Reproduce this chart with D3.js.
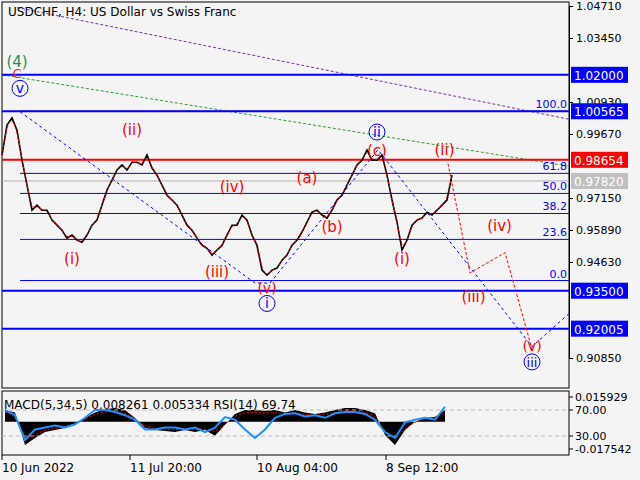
<!DOCTYPE html>
<html><head><meta charset="utf-8">
<script src="https://cdn.jsdelivr.net/npm/d3@7"></script>
<style>body{margin:0;background:#f4f4f4}svg{font-family:Tahoma,"DejaVu Sans",sans-serif}</style>
</head><body><svg id="c" width="640" height="480"></svg>
<script>
// closes, one per step
const closes = [0.9884,1.0002,1.0030,0.9982,0.9864,0.9766,0.9667,0.9687,0.9667,0.9667,0.9628,0.9608,0.9588,0.9557,0.9569,
  0.9549,0.9541,0.9569,0.9608,0.9628,0.9687,0.9746,0.9785,0.9825,0.9845,0.9825,0.9856,0.9856,0.9845,0.9884,
  0.9833,0.9805,0.9766,0.9726,0.9707,0.9687,0.9648,0.9608,0.9588,0.9557,0.9529,0.9517,0.9490,0.9510,0.9529,
  0.9569,0.9608,0.9608,0.9648,0.9628,0.9569,0.9529,0.9431,0.9411,0.9431,0.9439,0.9470,0.9490,0.9529,0.9549,
  0.9581,0.9620,0.9659,0.9667,0.9648,0.9636,0.9667,0.9707,0.9726,0.9766,0.9805,0.9845,0.9864,0.9904,0.9864,
  0.9864,0.9884,0.9805,0.9707,0.9620,0.9510,0.9549,0.9608,0.9628,0.9636,0.9659,0.9648,0.9667,0.9687,0.9707,0.9805];
const macd = [0.0075,0.006,-0.015,-0.0105,-0.0066,-0.0053,-0.004,-0.002,0.0024,0.006,0.008,0.0088,0.0075,0.0024,-0.004,
  -0.0053,-0.006,-0.0066,-0.0053,-0.0066,-0.0053,-0.009,-0.002,0.005,0.0075,0.0075,0.007,0.0075,0.006,0.0075,
  0.006,0.005,0.006,0.0075,0.0088,0.0088,0.0075,0.0055,-0.0086,-0.015,-0.0053,0,0.0024,0.003,0.0075];
const rsi = [70,62,24,40,43,46,43,48,58,70,70,67,62,55,40,40,43,43,40,43,36,43,59,55,40,27,40,58,64,65,
  60,62,58,65,67,67,64,55,36,27,51,55,58,55,75];
const priceTicks = [1.04710,1.03450,1.00930,0.99670,0.97150,0.95890,0.94630,0.90850];
const timeTicks = [[0,"10 Jun 2022"],[25.6,"11 Jul 20:00"],[51,"10 Aug 04:00"],[76.8,"8 Sep 12:00"]];
const levels = [[1.02000,"#0000ff"],[1.00565,"#0000ff"],[0.93500,"#0000ff"],[0.92005,"#0000ff"]];
const fibs = [[1.00565,"100.0"],[0.98120,"61.8"],[0.97330,"50.0"],[0.96540,"38.2"],[0.95520,"23.6"],[0.93900,"0.0"]];
const labels = [ // [index, price, text, colour, circled, size]
  [3,1.0232,"(4)","#2e8b57",0,15],[3,1.0186,"C","#e03020",0,13],[3.6,1.0127,"v","#0000ff",1,14],[26,0.9965,"(ii)","#ff0000",0,15],
  [46,0.9740,"(iv)","#ff0000",0,15],[61,0.9775,"(a)","#ff0000",0,15],[66,0.9580,"(b)","#ff0000",0,15],[75,0.9880,"(c)","#ff0000",0,15],
  [75,0.9955,"ii","#0000ff",1,14],[88.5,0.9885,"(ii)","#ff0000",0,15],[14,0.9455,"(i)","#ff0000",0,15],[43,0.9405,"(iii)","#ff0000",0,15],
  [53,0.9340,"(v)","#ff0000",0,14],[53,0.9280,"i","#0000ff",1,14],[80,0.9455,"(i)","#ff0000",0,15],[99.5,0.9585,"(iv)","#ff0000",0,15],
  [94.3,0.9305,"(iii)","#ff0000",0,15],[106,0.9112,"(v)","#ff0000",0,14],[106,0.9050,"iii","#0000ff",1,13]];
const blueWave = [[3.6,1.0055],[50.6,0.9380],[53.6,0.9380],[75.2,0.9905],[106,0.9130],[113.4,0.9260]];
const redWave = [[89.2,0.9850],[93.6,0.9420],[100.6,0.9500],[106,0.9120]];

const svg = d3.select('#c');
const x = d3.scaleLinear().domain([0,113.4]).range([2,569]);
const y = d3.scaleLinear().domain([0.90850,1.04710]).range([358,6]);
const ym = d3.scaleLinear().domain([-0.017542,0.015929]).range([449,397]);
const yr = d3.scaleLinear().domain([30,70]).range([436,410]);

svg.append('rect').attr('x',2).attr('y',2).attr('width',567).attr('height',386).attr('fill','none').attr('stroke','#000');
svg.append('rect').attr('x',2).attr('y',391).attr('width',567).attr('height',64).attr('fill','none').attr('stroke','#000');

// trend lines
svg.append('line').attr('x1',x(3)).attr('y1',y(1.0465)).attr('x2',x(113.4)).attr('y2',y(1.0025))
  .attr('stroke','#7b2fa8').attr('stroke-dasharray','3,2');
svg.append('line').attr('x1',x(0)).attr('y1',y(1.0200)).attr('x2',x(113.4)).attr('y2',y(0.9840))
  .attr('stroke','#2e9b2e').attr('stroke-dasharray','3,2');

fibs.forEach(([p,t]) => {
  svg.append('line').attr('x1',x(3.6)).attr('x2',569).attr('y1',y(p)).attr('y2',y(p)).attr('stroke','#0000ff');
  svg.append('text').attr('x',567).attr('y',y(p)-3).attr('text-anchor','end').attr('font-size',11).attr('fill','#0000ff').text(t);
});
svg.append('line').attr('x1',2).attr('x2',569).attr('y1',y(0.9782)).attr('y2',y(0.9782)).attr('stroke','#b0b0b0');
levels.forEach(([p,c]) => svg.append('line').attr('x1',2).attr('x2',569).attr('y1',y(p)).attr('y2',y(p)).attr('stroke',c).attr('stroke-width',2));
svg.append('line').attr('x1',2).attr('x2',569).attr('y1',y(0.98654)).attr('y2',y(0.98654)).attr('stroke','#ff0000').attr('stroke-width',2);

const line = d3.line().x(d => x(d[0])).y(d => y(d[1]));
svg.append('path').attr('d',line(blueWave)).attr('fill','none').attr('stroke','#0000ff').attr('stroke-dasharray','3,3');
svg.append('path').attr('d',line(redWave)).attr('fill','none').attr('stroke','#ff0000').attr('stroke-dasharray','3,2');

// price
svg.append('path').attr('d',d3.line().x((d,i) => x(i)).y(d => y(d))(closes))
  .attr('fill','none').attr('stroke','#000').attr('stroke-width',1.6);
svg.append('path').attr('d',d3.line().x((d,i) => x(i)).y(d => y(d)).curve(d3.curveBasis)(closes))
  .attr('fill','none').attr('stroke','#ff0000').attr('stroke-dasharray','2,2');

labels.forEach(([i,p,t,c,circ,fs]) => {
  if (circ) svg.append('circle').attr('cx',x(i)).attr('cy',y(p)-5).attr('r',8).attr('fill','none').attr('stroke','#0000ff');
  svg.append('text').attr('x',x(i)).attr('y',y(p)).attr('text-anchor','middle').attr('font-size',fs).attr('fill',c).text(t);
});

// right axis
svg.append('g').attr('transform','translate(569,0)').call(d3.axisRight(y).tickValues(priceTicks).tickFormat(d3.format('.5f')).tickSize(4))
  .call(g => g.select('.domain').attr('stroke','#000'))
  .selectAll('text').attr('font-size',11).attr('font-family','Tahoma,DejaVu Sans');
const tag = (p,t,bg,fg) => {
  svg.append('rect').attr('x',571).attr('y',y(p)-8).attr('width',57).attr('height',16).attr('fill',bg);
  svg.append('text').attr('x',574).attr('y',y(p)+5).attr('font-size',12).attr('fill',fg).text(t);
};
tag(1.02000,'1.02000','#0000ff','#fff'); tag(1.00565,'1.00565','#0000ff','#fff');
tag(0.98654,'0.98654','#ff0000','#fff'); tag(0.97820,'0.97820','#c0c0c0','#fff');
tag(0.93500,'0.93500','#0000ff','#fff'); tag(0.92005,'0.92005','#0000ff','#fff');
svg.append('text').attr('x',8).attr('y',16).attr('font-size',12).text('USDCHF, H4:  US Dollar vs Swiss Franc');

// indicator pane
const xm = d3.scaleLinear().domain([0,44]).range([5,445]);
svg.append('path').attr('d',d3.area().x((d,i) => xm(i)).y0(ym(0)).y1(d => ym(d))(macd)).attr('fill','#000');
[70,30].forEach(v => svg.append('line').attr('x1',2).attr('x2',569).attr('y1',yr(v)).attr('y2',yr(v)).attr('stroke','#bbb').attr('stroke-dasharray','4,3'));
svg.append('path').attr('d',d3.line().x((d,i) => xm(i)).y(d => ym(d*0.8)).curve(d3.curveBasis)(macd))
  .attr('fill','none').attr('stroke','#ff0000').attr('stroke-dasharray','2,2');
svg.append('path').attr('d',d3.line().x((d,i) => xm(i)).y(d => yr(d))(rsi)).attr('fill','none').attr('stroke','#1e90ff').attr('stroke-width',2);
svg.append('text').attr('x',4).attr('y',409).attr('font-size',12).text('MACD(5,34,5) 0.008261 0.005334 RSI(14) 69.74');
[[ym(0.015929),'0.015929'],[yr(70),'70.00'],[yr(30),'30.00'],[ym(-0.017542),'-0.017542']].forEach(([py,t]) => {
  svg.append('line').attr('x1',569).attr('x2',573).attr('y1',py).attr('y2',py).attr('stroke','#000');
  svg.append('text').attr('x',575).attr('y',py+4).attr('font-size',11).text(t);
});

// time axis
timeTicks.forEach(([i,t]) => {
  svg.append('line').attr('x1',x(i)).attr('x2',x(i)).attr('y1',455).attr('y2',460).attr('stroke','#000');
  svg.append('text').attr('x',x(i)).attr('y',472).attr('font-size',12).text(t);
});
</script></body></html>
